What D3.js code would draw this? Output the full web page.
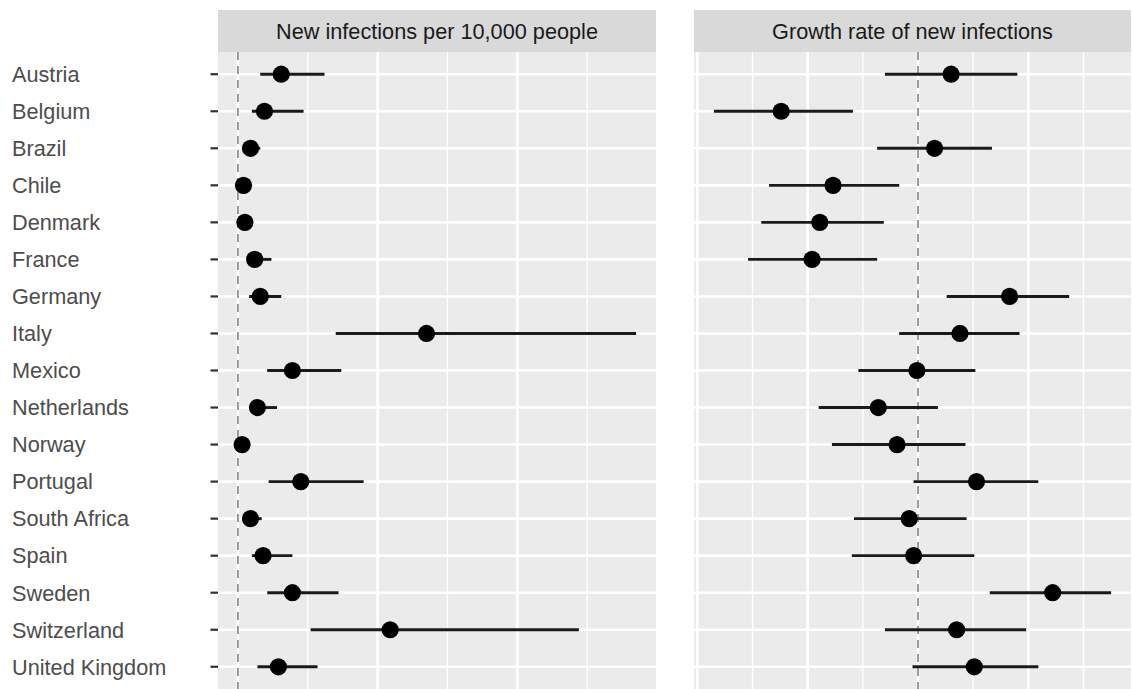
<!DOCTYPE html>
<html>
<head>
<meta charset="utf-8">
<script src="https://cdn.jsdelivr.net/npm/d3@7"></script>
<style>
  body { margin: 0; background: #ffffff; }
  svg { display: block; font-family: "Liberation Sans", Arial, Helvetica, sans-serif; }
</style>
</head>
<body>
<svg id="drawing_region"></svg>
<script>
// countries, top to bottom
const countries = ["Austria", "Belgium", "Brazil", "Chile", "Denmark", "France", "Germany", "Italy",
    "Mexico", "Netherlands", "Norway", "Portugal", "South Africa", "Spain", "Sweden", "Switzerland",
    "United Kingdom"];

// new infections per 10,000 people (estimate, lower, upper)
const infEst  = [0.31, 0.19, 0.09, 0.04, 0.05, 0.12, 0.16, 1.35, 0.39, 0.14, 0.03, 0.45, 0.09, 0.18, 0.39, 1.09, 0.29];
const infLow  = [0.16, 0.10, 0.04, 0.00, 0.01, 0.07, 0.08, 0.70, 0.21, 0.08, 0.00, 0.22, 0.04, 0.10, 0.21, 0.52, 0.14];
const infHigh = [0.62, 0.47, 0.16, 0.08, 0.09, 0.24, 0.31, 2.85, 0.74, 0.28, 0.07, 0.90, 0.17, 0.39, 0.72, 2.44, 0.57];

// growth rate of new infections (estimate, lower, upper)
const growEst  = [0.030, -0.124, 0.015, -0.077, -0.089, -0.096, 0.083, 0.038, -0.001, -0.036, -0.019, 0.053, -0.008, -0.004, 0.122, 0.035, 0.051];
const growLow  = [-0.030, -0.185, -0.037, -0.135, -0.142, -0.154, 0.026, -0.017, -0.054, -0.090, -0.078, -0.004, -0.058, -0.060, 0.065, -0.030, -0.005];
const growHigh = [0.090, -0.059, 0.067, -0.017, -0.031, -0.037, 0.137, 0.092, 0.052, 0.018, 0.043, 0.109, 0.044, 0.051, 0.175, 0.098, 0.109];

const panelTitles = ["New infections per 10,000 people", "Growth rate of new infections"];

// grid breaks (axis labels are cut off in the picture)
const infMajor = [0, 1, 2];
const infMinor = [0.5, 1.5, 2.5];
const growMajor = [-0.2, -0.1, 0, 0.1];
const growMinor = [-0.15, -0.05, 0.05, 0.15];


class DotWhiskerPanel {
    constructor(config, data) {
        this.config = {
            parent: config.parent,
            left: config.left,
            width: config.width,
            top: config.top || 52,
            height: config.height || 637,
            strip: config.strip || 42,
            title: config.title,
            major: config.major || [],
            minor: config.minor || [],
            ref: config.ref || 0
        };
        this.data = data;
        this.init();
    }

    init() {
        let self = this;

        self.chart = self.config.parent.append('g')
            .attr('transform', `translate(${self.config.left},${self.config.top})`);

        self.xscale = d3.scaleLinear()
            .range([0, self.config.width]);

        self.yscale = d3.scalePoint()
            .domain(countries)
            .range([0, self.config.height])
            .padding(0.6);
    }

    update() {
        let self = this;
        // ggplot style 5% expansion
        const lo = d3.min(self.data, d => d.low);
        const hi = d3.max(self.data, d => d.high);
        const pad = (hi - lo) * 0.05;
        self.xscale.domain([lo - pad, hi + pad]);
        self.render();
    }

    render() {
        let self = this;
        const w = self.config.width, h = self.config.height;

        // strip
        self.chart.append('rect')
            .attr('x', 0).attr('y', -self.config.strip)
            .attr('width', w).attr('height', self.config.strip)
            .attr('fill', '#d9d9d9');
        self.chart.append('text')
            .attr('x', w / 2).attr('y', -self.config.strip / 2)
            .attr('dy', '0.36em')
            .attr('text-anchor', 'middle')
            .attr('font-size', 21.7)
            .attr('fill', '#1a1a1a')
            .text(self.config.title);

        self.chart.append('rect')
            .attr('width', w).attr('height', h)
            .attr('fill', '#ebebeb');

        self.chart.selectAll('.minor').data(self.config.minor).enter()
            .append('line')
            .attr('x1', d => self.xscale(d)).attr('x2', d => self.xscale(d))
            .attr('y1', 0).attr('y2', h)
            .attr('stroke', '#ffffff').attr('stroke-width', 1.3);

        self.chart.selectAll('.major').data(self.config.major).enter()
            .append('line')
            .attr('x1', d => self.xscale(d)).attr('x2', d => self.xscale(d))
            .attr('y1', 0).attr('y2', h)
            .attr('stroke', '#ffffff').attr('stroke-width', 2.6);

        self.chart.selectAll('.hgrid').data(countries).enter()
            .append('line')
            .attr('x1', 0).attr('x2', w)
            .attr('y1', d => self.yscale(d)).attr('y2', d => self.yscale(d))
            .attr('stroke', '#ffffff').attr('stroke-width', 2.6);

        self.chart.append('line')
            .attr('x1', self.xscale(self.config.ref)).attr('x2', self.xscale(self.config.ref))
            .attr('y1', 0).attr('y2', h)
            .attr('stroke', '#8c8c8c').attr('stroke-width', 1.7)
            .attr('stroke-dasharray', '8,6');

        self.chart.selectAll('.whisker').data(self.data).enter()
            .append('line')
            .attr('x1', d => self.xscale(d.low)).attr('x2', d => self.xscale(d.high))
            .attr('y1', d => self.yscale(d.country)).attr('y2', d => self.yscale(d.country))
            .attr('stroke', '#1a1a1a').attr('stroke-width', 2.9);

        self.chart.selectAll('.dot').data(self.data).enter()
            .append('circle')
            .attr('cx', d => self.xscale(d.est))
            .attr('cy', d => self.yscale(d.country))
            .attr('r', 8.6)
            .attr('fill', '#000000');
    }
}


const svg = d3.select('#drawing_region')
    .attr('width', 1132)
    .attr('height', 689);

const infData = countries.map((c, i) => ({ country: c, est: infEst[i], low: infLow[i], high: infHigh[i] }));
const growData = countries.map((c, i) => ({ country: c, est: growEst[i], low: growLow[i], high: growHigh[i] }));

const left_panel = new DotWhiskerPanel({
    parent: svg, left: 218, width: 438, title: panelTitles[0],
    major: infMajor, minor: infMinor
}, infData);
left_panel.update();

const right_panel = new DotWhiskerPanel({
    parent: svg, left: 694, width: 437, title: panelTitles[1],
    major: growMajor, minor: growMinor
}, growData);
right_panel.update();

// y axis: labels left aligned, short ticks next to the panel
const yaxis = svg.append('g')
    .attr('transform', `translate(0,${left_panel.config.top})`);

yaxis.selectAll('text').data(countries).enter()
    .append('text')
    .attr('x', 12)
    .attr('y', d => left_panel.yscale(d))
    .attr('dy', '0.36em')
    .attr('font-size', 21.7)
    .attr('fill', '#4d4d4d')
    .text(d => d);

yaxis.selectAll('line').data(countries).enter()
    .append('line')
    .attr('x1', 210.5).attr('x2', 218)
    .attr('y1', d => left_panel.yscale(d)).attr('y2', d => left_panel.yscale(d))
    .attr('stroke', '#333333').attr('stroke-width', 2.2);
</script>
</body>
</html>
